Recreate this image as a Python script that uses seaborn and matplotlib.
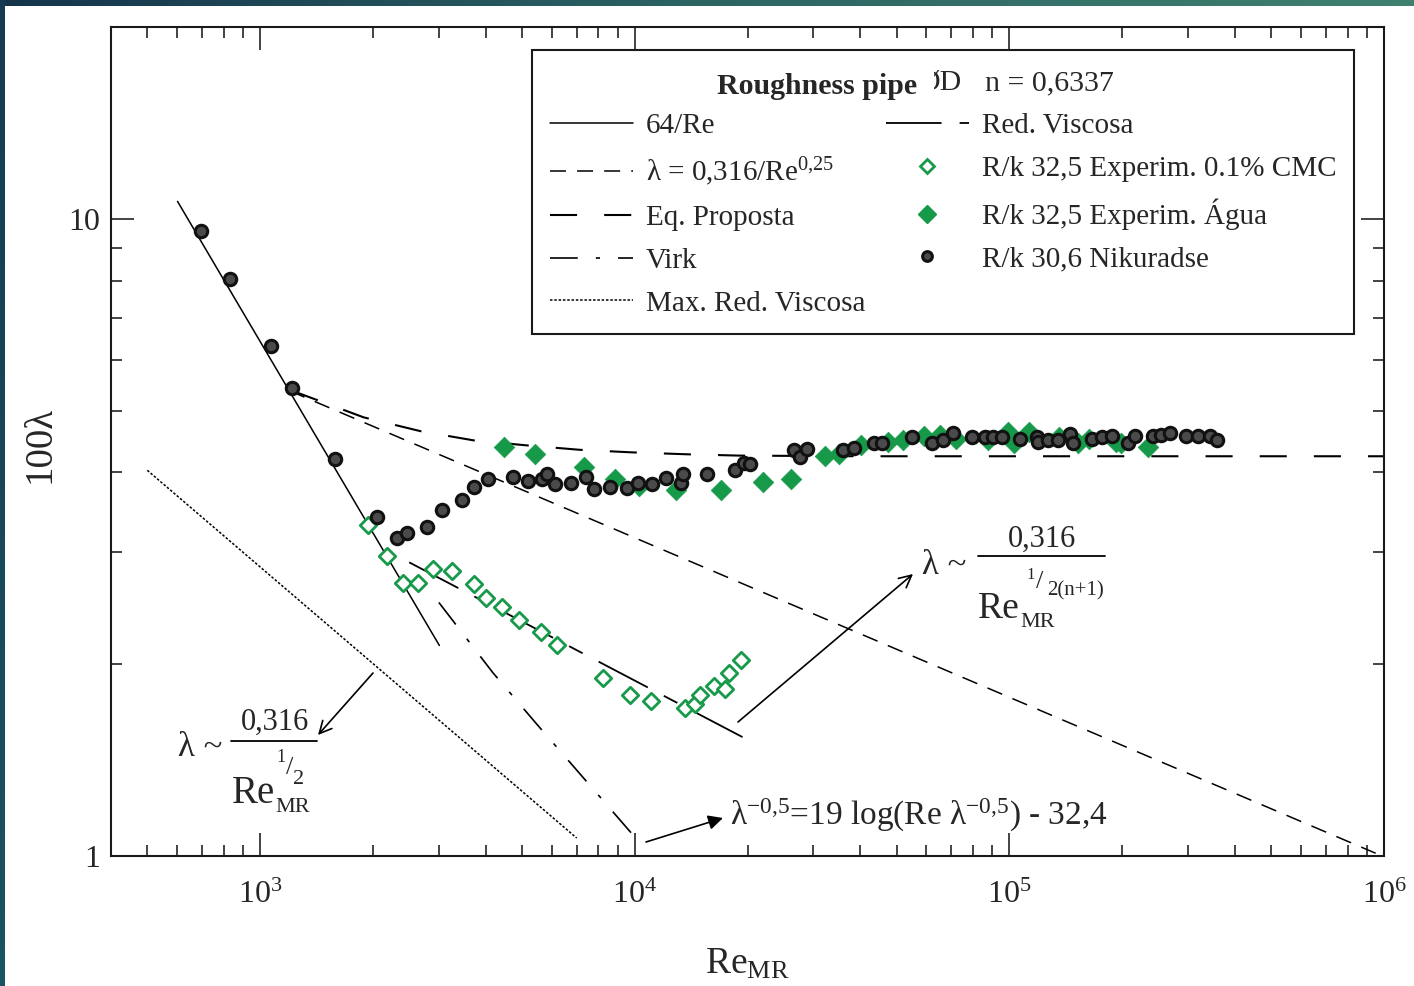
import numpy as np
import matplotlib.pyplot as plt
import seaborn as sns
from matplotlib.lines import Line2D
from matplotlib.patches import Rectangle
from matplotlib.colors import LinearSegmentedColormap
from matplotlib.ticker import LogLocator, NullFormatter

W, H = 1414, 986

# --- pontos (Re_MR, 100*lambda) ---
# R/k 30,6 Nikuradse
re_nik = [695, 830, 1072, 1215, 1582, 2055, 2323, 2471, 2794, 3051, 3451, 3722, 4063, 4743, 5184,
          5660, 5843, 6144, 6750, 7402, 7775, 8614, 9539, 10210, 11140, 12100, 13270, 13470, 15560,
          18560, 19530, 20350, 26550, 27670, 28820, 36080, 38370, 43390, 45650, 54890, 62060, 66680,
          70910, 79350, 86140, 90640, 95390, 106800, 118300, 119500, 127100, 135100, 145200, 148200,
          165800, 176300, 187400, 207600, 216400, 242100, 254700, 268200, 297000, 319200, 342900, 357200]
lam_nik = [9.58, 8.04, 6.32, 5.43, 4.20, 3.41, 3.16, 3.21, 3.28, 3.49, 3.62, 3.80, 3.90, 3.93, 3.88,
           3.90, 3.98, 3.83, 3.85, 3.93, 3.77, 3.79, 3.78, 3.85, 3.83, 3.92, 3.85, 3.98, 3.97,
           4.03, 4.14, 4.13, 4.33, 4.23, 4.36, 4.34, 4.37, 4.44, 4.44, 4.54, 4.44, 4.49,
           4.61, 4.54, 4.54, 4.54, 4.54, 4.52, 4.54, 4.46, 4.49, 4.49, 4.60, 4.44,
           4.52, 4.54, 4.57, 4.44, 4.57, 4.57, 4.58, 4.61, 4.57, 4.57, 4.57, 4.50]

# R/k 32,5 Experim. Água
re_agua = [4470, 5410, 7310, 8880, 10250, 12860, 17030, 21950, 26140, 32300, 35100, 40180, 47570, 52000,
           59340, 65460, 72230, 87900, 99400, 103100, 113100, 135900, 152800, 163500, 192300, 199000, 234800]
lam_agua = [4.38, 4.28, 4.08, 3.91, 3.81, 3.75, 3.75, 3.87, 3.91, 4.25, 4.28, 4.41, 4.46, 4.50,
            4.57, 4.58, 4.51, 4.49, 4.62, 4.44, 4.62, 4.54, 4.44, 4.52, 4.46, 4.44, 4.39]

# R/k 32,5 Experim. 0.1% CMC
re_cmc = [1944, 2185, 2406, 2644, 2893, 3257, 3722, 3998, 4411, 4924, 5604, 6206, 8217, 9739, 11080,
          13650, 14520, 14970, 16240, 17450, 17810, 19260]
lam_cmc = [3.31, 2.96, 2.68, 2.68, 2.82, 2.80, 2.67, 2.54, 2.46, 2.35, 2.25, 2.14, 1.90, 1.79, 1.75,
           1.71, 1.73, 1.79, 1.85, 1.83, 1.94, 2.03]

# curvas
re_64 = [602, 3010]
lam_64 = [10.65, 2.14]
re_blasius = [1200, 950000]
lam_blasius = [5.37, 1.01]
re_prop = [1220, 1890, 2690, 3720, 5150, 7130, 9820, 13800, 19000, 40000, 1000000]
lam_prop = [5.37, 4.88, 4.64, 4.49, 4.41, 4.34, 4.30, 4.27, 4.25, 4.24, 4.24]
re_virk = [3000, 4180, 5430, 9880]
lam_virk = [2.50, 1.94, 1.62, 1.08]
re_maxred = [500, 7000]
lam_maxred = [4.03, 1.067]
re_redvisc = [2500, 20100]
lam_redvisc = [2.89, 1.52]

GREEN = "#17994a"

sns.set_style("white")
plt.rcParams["font.family"] = ["Liberation Serif", "DejaVu Serif"]
plt.rcParams["mathtext.fontset"] = "custom"
plt.rcParams["mathtext.rm"] = "Liberation Serif"
plt.rcParams["mathtext.it"] = "Liberation Serif:italic"
plt.rcParams["mathtext.bf"] = "Liberation Serif:bold"
plt.rcParams["lines.scale_dashes"] = False

fig = plt.figure(figsize=(W / 100, H / 100), dpi=100)
ax = fig.add_axes([111 / W, 130 / H, 1273 / W, 829 / H])
ax.set_xscale("log")
ax.set_yscale("log")

# estilos de linha (em pontos)
ls_solid = "-"
ls_blasius = (0, (11.5, 8))
ls_prop = (0, (19.5, 19.5))
ls_virk = (0, (20, 13, 3, 13))
ls_maxred = (0, (1.8, 1.3))
ls_redvisc = (0, (40, 13, 11, 13))

curvas = [
    (re_64, lam_64, ls_solid, 1.1),
    (re_blasius, lam_blasius, ls_blasius, 1.1),
    (re_prop, lam_prop, ls_prop, 1.5),
    (re_virk, lam_virk, ls_virk, 1.2),
    (re_maxred, lam_maxred, ls_maxred, 1.1),
    (re_redvisc, lam_redvisc, ls_redvisc, 1.3),
]
for xs, ys, ls, lw in curvas:
    sns.lineplot(x=xs, y=ys, ax=ax, color="k", lw=lw, estimator=None, sort=False)
    ax.lines[-1].set_linestyle(ls)

sns.scatterplot(x=re_cmc, y=lam_cmc, ax=ax, marker="D", s=70, facecolor="white",
                edgecolor=GREEN, linewidth=2.0, zorder=4)
sns.scatterplot(x=re_agua, y=lam_agua, ax=ax, marker="D", s=110, color=GREEN,
                edgecolor=GREEN, linewidth=0.5, zorder=4)
sns.scatterplot(x=re_nik, y=lam_nik, ax=ax, marker="o", s=80, facecolor="#4a4a4a",
                edgecolor="#111111", linewidth=2.2, zorder=5)

ax.set_xlim(400, 1e6)
ax.set_ylim(1, 20)
ax.xaxis.set_major_locator(LogLocator(base=10, numticks=10))
ax.xaxis.set_minor_locator(LogLocator(base=10, subs=np.arange(2, 10), numticks=20))
ax.xaxis.set_minor_formatter(NullFormatter())
ax.set_yticks([1, 10])
ax.set_yticklabels(["1", "10"])
ax.yaxis.set_minor_locator(LogLocator(base=10, subs=np.arange(2, 10), numticks=20))
ax.yaxis.set_minor_formatter(NullFormatter())
ax.tick_params(which="both", direction="in", top=True, right=True, bottom=True, left=True,
               width=1.1, color="#111111")
ax.tick_params(which="major", length=16.5)
ax.tick_params(which="minor", length=8)
ax.tick_params(axis="x", which="major", labelsize=23, pad=18)
ax.tick_params(axis="y", which="major", labelsize=23, pad=8)
for sp in ax.spines.values():
    sp.set_linewidth(1.5)
    sp.set_color("#1a1a1a")

ax.set_xlabel(r"Re$_{\mathrm{MR}}$", fontsize=27)
ax.xaxis.set_label_coords(0.5, -0.11)
ax.set_ylabel("100λ", fontsize=28)
ax.yaxis.set_label_coords(-0.041, 0.496)

# --- legenda ---
handles = [
    Line2D([], [], color="k", lw=1.1, ls=ls_solid),
    Line2D([], [], color="k", lw=1.1, ls=ls_blasius),
    Line2D([], [], color="k", lw=1.5, ls=ls_prop),
    Line2D([], [], color="k", lw=1.2, ls=ls_virk),
    Line2D([], [], color="k", lw=1.1, ls=ls_maxred),
    Line2D([], [], color="k", lw=1.3, ls=ls_redvisc),
    Line2D([], [], ls="none", marker="D", ms=7.5, mfc="white", mec=GREEN, mew=2.0),
    Line2D([], [], ls="none", marker="D", ms=9, mfc=GREEN, mec=GREEN),
    Line2D([], [], ls="none", marker="o", ms=7, mfc="#4a4a4a", mec="#111111", mew=2.2),
]
labels = ["64/Re", r"λ = 0,316/$\mathregular{Re^{0{,}25}}$", "Eq. Proposta", "Virk",
          "Max. Red. Viscosa", "Red. Viscosa", "R/k 32,5 Experim. 0.1% CMC",
          "R/k 32,5 Experim. Água", "R/k 30,6 Nikuradse"]
leg = ax.legend(handles, labels, ncol=2, loc="upper left",
                bbox_to_anchor=(532 / W, 1 - 50 / H), bbox_transform=fig.transFigure,
                fontsize=21, title=" ", title_fontsize=23, frameon=True, fancybox=False,
                edgecolor="#1a1a1a", framealpha=1, borderaxespad=0, borderpad=0.6,
                handlelength=2.85, handletextpad=0.45, columnspacing=0.7, labelspacing=0.56)
leg.get_frame().set_linewidth(1.5)


def fx(x):
    return x / W


def fy(y):
    return 1 - y / H


# titulo da legenda
fig.text(fx(962), fy(83), "ØD", fontsize=21.5, ha="right", va="center", zorder=3)
fig.patches.append(Rectangle((fx(700), fy(108)), (934 - 700) / W, 46 / H, transform=fig.transFigure,
                             facecolor="white", edgecolor="none", zorder=4))
fig.text(fx(717), fy(86), "Roughness pipe", fontsize=21.5, fontweight="bold", ha="left",
         va="center", zorder=5)
fig.text(fx(985), fy(83), "n = 0,6337", fontsize=21.5, ha="left", va="center", zorder=3)

# anotacao inferior esquerda
fig.text(fx(200), fy(748), "λ ~", fontsize=25, ha="center", va="center")
fig.text(fx(275), fy(722), "0,316", fontsize=22, ha="center", va="center")
fig.add_artist(Line2D([fx(231), fx(317)], [fy(741), fy(741)], color="k", lw=1.3,
                      transform=fig.transFigure))
fig.text(fx(232), fy(803), "Re", fontsize=28, ha="left", va="baseline")
fig.text(fx(275), fy(812), "MR", fontsize=16, ha="left", va="baseline")
fig.text(fx(281), fy(758), "1", fontsize=13, ha="center", va="center")
fig.text(fx(290), fy(768), "/", fontsize=19, ha="center", va="center")
fig.text(fx(299), fy(779), "2", fontsize=16, ha="center", va="center")

# anotacao a direita
fig.text(fx(944), fy(565), "λ ~", fontsize=25, ha="center", va="center")
fig.text(fx(1042), fy(539), "0,316", fontsize=22, ha="center", va="center")
fig.add_artist(Line2D([fx(978), fx(1105)], [fy(556), fy(556)], color="k", lw=1.3,
                      transform=fig.transFigure))
fig.text(fx(978), fy(618), "Re", fontsize=27, ha="left", va="baseline")
fig.text(fx(1020), fy(627), "MR", fontsize=16, ha="left", va="baseline")
fig.text(fx(1031), fy(575), "1", fontsize=12, ha="center", va="center")
fig.text(fx(1040), fy(582), "/", fontsize=19, ha="center", va="center")
fig.text(fx(1047), fy(591), "2(n+1)", fontsize=15, ha="left", va="center")

# equacao de Virk
fig.text(fx(730), fy(825),
         r"$\mathregular{λ^{-0{,}5}}$=19 log(Re $\mathregular{λ^{-0{,}5}}$) - 32,4",
         fontsize=24, ha="left", va="baseline")

# setas
arrows = [((373, 673), (318, 735), "->"), ((738, 722), (913, 574), "->"),
          ((646, 842), (723, 818), "-|>")]
for (x0, y0), (x1, y1), st in arrows:
    ax.annotate("", xy=(x1, H - y1), xytext=(x0, H - y0), xycoords="figure pixels",
                textcoords="figure pixels",
                arrowprops=dict(arrowstyle=st, color="k", lw=1.2, mutation_scale=22,
                                shrinkA=0, shrinkB=0))

# moldura
band = fig.add_axes([0, 1 - 6 / H, 1, 6 / H])
band.imshow(np.linspace(0, 1, 256)[None, :], aspect="auto",
            cmap=LinearSegmentedColormap.from_list("b", ["#15344c", "#2c6463", "#3f806f"]))
band.axis("off")
side = fig.add_axes([0, 0, 5 / W, 1])
side.imshow(np.linspace(0, 1, 256)[:, None], aspect="auto",
            cmap=LinearSegmentedColormap.from_list("s", ["#163a52", "#1b5462"]))
side.axis("off")

fig.savefig("out.png", dpi=100)
